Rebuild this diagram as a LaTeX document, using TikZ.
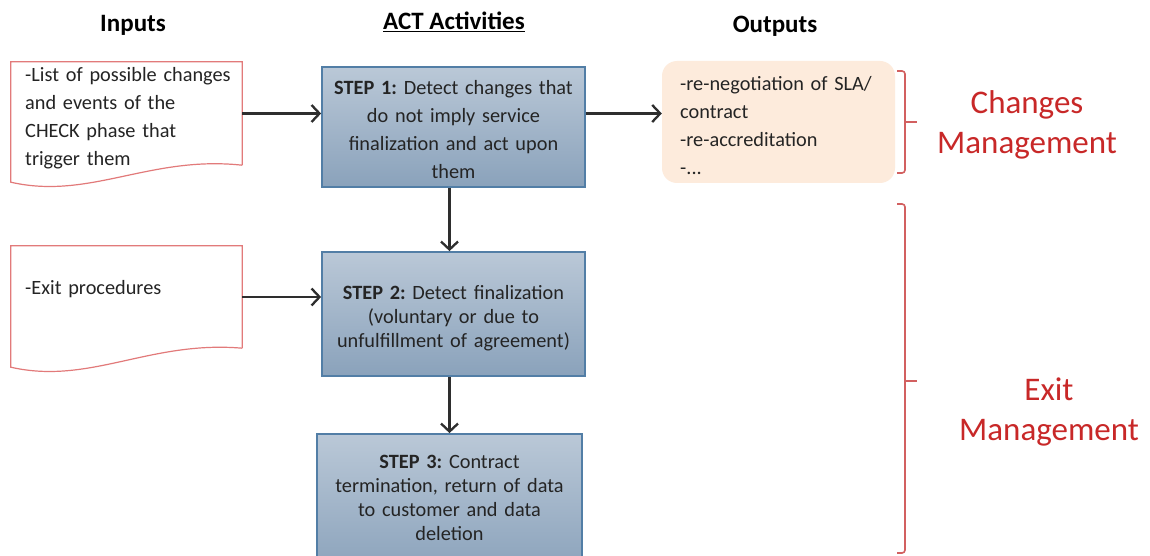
\documentclass[tikz,border=0pt]{standalone}
\usepackage{fontspec}
\setmainfont{Carlito}
\usetikzlibrary{arrows.meta,calc,shadings}

\definecolor{docred}{RGB}{226,122,122}
\definecolor{bracered}{RGB}{210,96,96}
\definecolor{labelred}{RGB}{200,40,40}
\definecolor{stepborder}{RGB}{82,126,166}
\definecolor{steptop}{RGB}{186,200,215}
\definecolor{stepbot}{RGB}{138,162,187}
\definecolor{outfill}{RGB}{253,235,220}
\definecolor{txt}{RGB}{36,36,36}

\tikzset{
  body/.style={font=\frenchspacing\fontsize{20.3}{28}\selectfont, text=txt, inner sep=0pt},
  tight/.style={font=\frenchspacing\fontsize{20.3}{24}\selectfont},
  head/.style={font=\fontsize{25}{30}\selectfont\bfseries, text=black, inner sep=0pt, anchor=base},
  redlabel/.style={font=\fontsize{33}{40}\selectfont, text=labelred, inner sep=0pt,
    anchor=north, align=center, text width=220pt},
  docbox/.style={draw=none, inner sep=0pt},
  docline/.style={draw=docred, line width=1.2pt, fill=white},
  stepbox/.style={draw=stepborder, line width=1.8pt, top color=steptop, bottom color=stepbot,
    inner sep=0pt},
  outbox/.style={fill=outfill, rounded corners=15pt, inner sep=0pt},
  steptext/.style={body, anchor=north, align=center, text width=258pt},
  lefttext/.style={body, anchor=north west, align=left, text width=225pt},
  arr/.style={line width=2.3pt, draw=black!82, -{Straight Barb[length=8pt,width=17pt]}},
  brace/.style={draw=bracered, line width=1.6pt, rounded corners=3pt},
}

\begin{document}
\begin{tikzpicture}[x=1pt,y=-1pt]
\useasboundingbox (0,0) rectangle (1150,556);
\fill[white] (0,0) rectangle (1150,556);
\clip (0,0) rectangle (1150,556);

% column headings
\node[head] (hin)  at (133,32)   {Inputs};
\node[head] (hact) at (454,30) {\underline{ACT Activities}};
\node[head] (hout) at (775,33)   {Outputs};

% input documents (flowchart "document" shape)
\node[docbox, minimum width=231pt, minimum height=103pt] (in1) at (126.5,113.5) {};
\draw[docline] (in1.south east) -- (in1.north east) -- (in1.north west)
  -- ($(in1.south west)+(0,17)$)
  .. controls ($(in1.south west)+(79,35)$) and ($(in1.south west)+(139,-10)$) .. (in1.south east);
\node[lefttext] (in1t) at (25,62)
  {\strut -List of possible changes\\and events of the\\CHECK phase that\\trigger them};

\node[docbox, minimum width=231pt, minimum height=102pt] (in2) at (126.5,297) {};
\draw[docline] (in2.south east) -- (in2.north east) -- (in2.north west)
  -- ($(in2.south west)+(0,19)$)
  .. controls ($(in2.south west)+(79,37)$) and ($(in2.south west)+(139,-8)$) .. (in2.south east);
\node[lefttext] (in2t) at (25,275) {\strut -Exit procedures};

% ACT steps
\node[stepbox, minimum width=263pt, minimum height=120pt] (s1) at (453.5,127) {};
\node[steptext] (s1t) at (453.5,75)
  {\strut\textbf{STEP 1:} Detect changes that\\do not imply service\\finalization and act upon\\them};

\node[stepbox, minimum width=263pt, minimum height=124pt] (s2) at (453.5,314) {};
\node[steptext, tight] (s2t) at (453.5,282)
  {\strut\textbf{STEP 2:} Detect finalization\\(voluntary or due to\\unfulfillment of agreement)};

\node[stepbox, minimum width=265pt, minimum height=140pt] (s3) at (449.5,504) {};
\node[steptext, tight] (s3t) at (449.5,451.5)
  {\strut\textbf{STEP 3:} Contract\\termination, return of data\\to customer and data\\deletion};

% outputs
\node[outbox, minimum width=233pt, minimum height=122pt] (out) at (778.5,122) {};
\node[lefttext] (outt) at (680,71)
  {\strut -re-negotiation of SLA/\\contract\\-re-accreditation\\-...};

% connectors
\draw[arr] (in1.east) -- (in1.east -| s1.west);
\draw[arr] (s1.east |- in1.east) -- (out.west |- in1.east);
\draw[arr] (s1.south -| s3.north) -- (s2.north -| s3.north);
\draw[arr] (in2.east) -- (in2.east -| s2.west);
\draw[arr] (s2.south -| s3.north) -- (s3.north);

% grouping brackets
\coordinate (b1top) at (897,71);
\coordinate (b1bot) at (897,173);
\coordinate (b1mid) at (905,122);
\draw[brace] (b1top) -| (b1mid) |- (b1bot);
\draw[brace] (b1mid) -- ++(12,0);
\node[redlabel] (chg) at (1027,90) {Changes\\Management};

\coordinate (b2top) at (897,204);
\coordinate (b2bot) at (897,553);
\coordinate (b2mid) at (905,381);
\draw[brace] (b2top) -| (b2mid) |- (b2bot);
\draw[brace] (b2mid) -- ++(12,0);
\node[redlabel] (exm) at (1049,378) {Exit\\Management};
\end{tikzpicture}
\end{document}
